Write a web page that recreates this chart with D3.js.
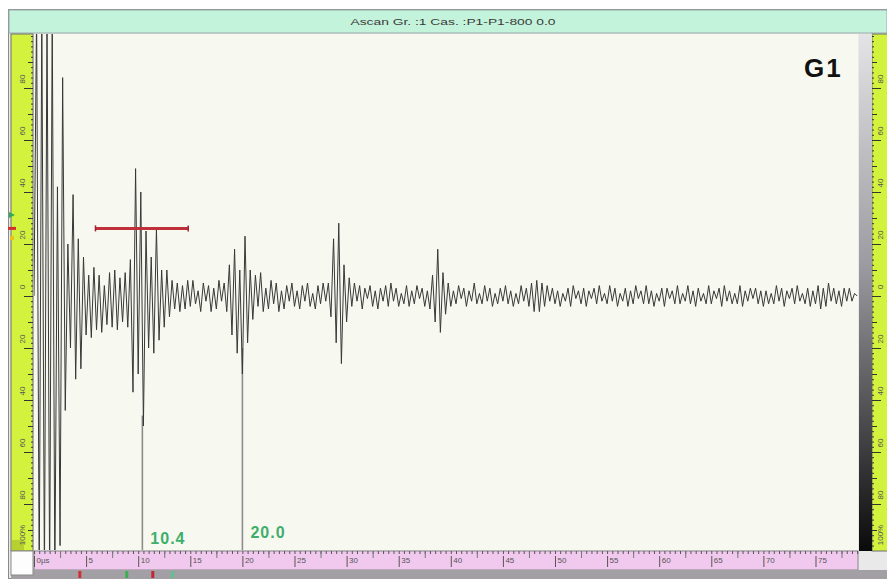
<!DOCTYPE html>
<html><head><meta charset="utf-8">
<script src="https://cdn.jsdelivr.net/npm/d3@7"></script>
<style>html,body{margin:0;padding:0;background:#fff;}svg{display:block;font-family:"Liberation Sans",Arial,sans-serif;}</style>
</head><body><svg id="c" width="887" height="579"></svg>
<script>
// ---------------- data ----------------
const titleText = "Ascan Gr. :1 Cas. :P1-P1-800 0.0";
const chartLabel = "G1";
const sampleStart = 0;      // µs
const sampleStep = 0.25;    // µs between samples
// amplitude in %, one value every 0.25 µs
const signalValues = [
  0,110,-110,110,-110,110,-110,110,-110,42,-96,84,-44,20,-20,39,-32,22,-28,15,
  -15,8,-16,11,-13,8,-14,4,-11,9,-12,10,-13,7,-10,9,-12,14,-37,49,
  -30,40,-50,25,-20,15,-22,26,-17,10,-12,10,-8,6,-5,5,-6,4,-5,6,
  -4,6,-3,2,-6,5,-2,4,-6,3,-5,6,-2,5,-6,12,-15,18,-22,10,
  -30,23,-18,10,-9,8,-4,9,-6,3,-5,6,-3,5,-6,2,-5,4,-2,5,
  -4,2,-5,4,-2,5,-4,1,-5,4,-3,5,-2,5,-8,22,-18,28,-26,12,
  -10,7,-4,5,-2,4,-5,3,-1,4,-4,2,-5,3,-2,4,-4,5,-2,3,
  -4,1,-3,4,-4,2,-3,4,-1,3,-4,2,-5,8,-10,18,-14,9,-7,5,
  -4,2,-3,4,-1,3,-4,2,-2,5,-3,1,-3,4,-2,3,-4,1,-3,3,
  -2,4,-3,2,-4,1,-3,4,-2,3,-4,5,-6,6,-6,5,-4,4,-2,3,
  -3,2,-4,1,-2,3,-4,4,-1,2,-3,3,-4,2,-1,3,-3,4,-2,1,
  -3,4,-2,3,-4,1,-2,3,-4,2,-3,4,-1,2,-3,4,-3,2,-4,1,
  -2,3,-4,3,-1,2,-3,4,-3,1,-2,4,-3,2,-4,3,-2,1,-3,4,
  -3,2,-1,3,-4,4,-2,2,-3,1,-3,4,-4,2,-2,3,-1,3,-3,2,
  -4,2,-3,1,-3,4,-2,3,-4,2,-1,3,-3,4,-2,1,-3,3,-4,2,
  -3,4,-5,3,-4,5,-2,3,-3,2,-4,3,-2,3,-2,1,0
];
const timeDomain = [0, 79.08];
const ampDomain = [-100, 100];
const xTickValues = [0,5,10,15,20,25,30,35,40,45,50,55,60,65,70,75];
const xTickLabels = ["0µs","5","10","15","20","25","30","35","40","45","50","55","60","65","70","75"];
const yTickValues = [80,60,40,20,0,-20,-40,-60,-80,-100];
const yTickLabels = ["80","60","40","20","0","20","40","60","80","100%"];
const gateStart = 5.9, gateEnd = 14.8, gateLevel = 26;
const cursorTimes = [10.4, 20.0];
const cursorLabels = ["10.4", "20.0"];
const cursorLows = [-46, -20];
const rulerMarkerTimes = [4.4, 8.9, 11.4, 13.3];
const rulerMarkerColors = ["#d0302f", "#3cb050", "#c02838", "#60c090"];

// ---------------- drawing ----------------
const svg = d3.select("#c");
const P = {l: 34, r: 858, t: 35, b: 550};
const x = d3.scaleLinear().domain(timeDomain).range([P.l, P.r]);
const y = d3.scaleLinear().domain(ampDomain).range([556, 36]);
const yellow = "#d3f23e";

svg.append("rect").attr("width", 887).attr("height", 579).attr("fill", "#fff");
svg.append("rect").attr("x", 8.5).attr("y", 9.5).attr("width", 890).attr("height", 569)
  .attr("fill", "#e9e9e9").attr("stroke", "#8a8a8a");

// title bar
svg.append("rect").attr("x", 9).attr("y", 10).attr("width", 878).attr("height", 23)
  .attr("fill", "#c4f3dc").attr("stroke", "#9aa");
svg.append("text").attr("x", 453).attr("y", 25).attr("text-anchor", "middle")
  .attr("font-size", 9.5).attr("fill", "#3a3a3a").attr("textLength", 205)
  .attr("lengthAdjust", "spacingAndGlyphs").text(titleText);

// side strips
svg.append("rect").attr("x", 11).attr("y", 34).attr("width", 22).attr("height", 517)
  .attr("fill", yellow).attr("stroke", "#6f6f6f");
svg.append("rect").attr("x", 872).attr("y", 34).attr("width", 20).attr("height", 517)
  .attr("fill", yellow).attr("stroke", "#6f6f6f");
const defs = svg.append("defs");
const g1 = defs.append("linearGradient").attr("id", "gb").attr("x1", 0).attr("y1", 0).attr("x2", 0).attr("y2", 1);
g1.append("stop").attr("offset", "0%").attr("stop-color", "#e4e4e6");
g1.append("stop").attr("offset", "45%").attr("stop-color", "#9a9aa0");
g1.append("stop").attr("offset", "100%").attr("stop-color", "#0a0a0a");
svg.append("rect").attr("x", 859).attr("y", 34).attr("width", 13).attr("height", 517).attr("fill", "url(#gb)");

// plot background
svg.append("rect").attr("x", P.l).attr("y", 34).attr("width", P.r - P.l).attr("height", P.b - 34)
  .attr("fill", "#f7f9f0");
defs.append("clipPath").attr("id", "clip").append("rect")
  .attr("x", P.l).attr("y", 34).attr("width", P.r - P.l).attr("height", P.b - 34);

// bottom ruler
svg.append("rect").attr("x", P.l).attr("y", 551).attr("width", P.r - P.l).attr("height", 19)
  .attr("fill", "#f2c9ee").attr("stroke", "#888");
svg.append("rect").attr("x", 11).attr("y", 570).attr("width", 876).attr("height", 9).attr("fill", "#a2a0a4");
svg.append("rect").attr("x", 11).attr("y", 551).attr("width", 22).attr("height", 24)
  .attr("fill", "#fdfdfd").attr("stroke", "#888");
svg.append("rect").attr("x", 12).attr("y", 540).attr("width", 12).attr("height", 10).attr("fill", "#b7d030");

svg.append("g").attr("transform", "translate(0,551)")
  .call(d3.axisBottom(x).tickValues(d3.range(0, 79.01, 0.5)).tickSize(3).tickFormat(""))
  .call(g => { g.select(".domain").remove(); g.selectAll("line").attr("stroke", "#555"); });
svg.append("g").attr("transform", "translate(0,551)")
  .call(d3.axisBottom(x).tickValues(d3.range(2.5, 79, 5)).tickSize(7).tickFormat(""))
  .call(g => { g.select(".domain").remove(); g.selectAll("line").attr("stroke", "#777"); });
const xAx = svg.append("g").attr("transform", "translate(0,551)")
  .call(d3.axisBottom(x).tickValues(xTickValues).tickSize(16).tickFormat((d, i) => xTickLabels[i]));
xAx.select(".domain").remove();
xAx.selectAll("line").attr("y1", 5).attr("stroke", "#555");
xAx.selectAll("text").attr("y", 12).attr("dy", 0).attr("x", 2).attr("text-anchor", "start")
  .attr("font-size", 8).attr("fill", "#555");

// amplitude axes (left and right)
const inPlot = v => y(v) >= 35 && y(v) <= 550;
function sideAxis(gen, tx, right) {
  svg.append("g").attr("transform", `translate(${tx},0)`)
    .call(gen(y).tickValues(d3.range(-100, 101, 2).filter(inPlot)).tickSize(2).tickFormat(""))
    .call(g => { g.select(".domain").remove(); g.selectAll("line").attr("stroke", "#333"); });
  svg.append("g").attr("transform", `translate(${tx},0)`)
    .call(gen(y).tickValues(d3.range(-90, 91, 20).filter(inPlot)).tickSize(5).tickFormat(""))
    .call(g => { g.select(".domain").remove(); g.selectAll("line").attr("stroke", "#333"); });
  const ax = svg.append("g").attr("transform", `translate(${tx},0)`)
    .call(gen(y).tickValues(yTickValues.filter(inPlot)).tickSize(9).tickFormat(""));
  ax.select(".domain").remove();
  ax.selectAll("line").attr("stroke", "#333");
  const lx = right ? tx + 8 : tx - 11;
  svg.append("g").selectAll("text").data(yTickValues).join("text")
    .attr("transform", (d) => `translate(${lx},${Math.min(y(d) - 9, 535)}) rotate(-90)`)
    .attr("text-anchor", "middle").attr("dominant-baseline", "central")
    .attr("font-size", 8).attr("fill", "#555")
    .text((d, i) => yTickLabels[i]);
}
sideAxis(d3.axisLeft, 33, false);
sideAxis(d3.axisRight, 872, true);

// left markers
svg.append("path").attr("d", "M9,212 L15,215 L9,218 Z").attr("fill", "#2faa55");
svg.append("rect").attr("x", 8).attr("y", y(gateLevel) - 1.5).attr("width", 8).attr("height", 3).attr("fill", "#d03030");
svg.append("rect").attr("x", 10).attr("y", 236).attr("width", 4).attr("height", 4).attr("fill", "#e8c020");

// ruler markers
svg.append("g").selectAll("rect").data(rulerMarkerTimes).join("rect")
  .attr("x", d => x(d) - 1.5).attr("y", 571).attr("width", 3).attr("height", 7)
  .attr("fill", (d, i) => rulerMarkerColors[i]);

const plot = svg.append("g").attr("clip-path", "url(#clip)");

// cursors
plot.selectAll("line.cur").data(cursorTimes).join("line").attr("class", "cur")
  .attr("x1", d => x(d)).attr("x2", d => x(d))
  .attr("y1", (d, i) => y(cursorLows[i])).attr("y2", P.b)
  .attr("stroke", "#8c8c8c").attr("stroke-width", 1.6);

// signal
const line = d3.line()
  .x((d, i) => x(sampleStart + i * sampleStep))
  .y(d => y(d));
plot.append("path").datum(signalValues).attr("d", line)
  .attr("fill", "none").attr("stroke", "#383838").attr("stroke-width", 1);

// gate
plot.append("line").attr("x1", x(gateStart)).attr("x2", x(gateEnd))
  .attr("y1", y(gateLevel)).attr("y2", y(gateLevel))
  .attr("stroke", "#c0303a").attr("stroke-width", 3);
plot.selectAll("line.gend").data([gateStart, gateEnd]).join("line").attr("class", "gend")
  .attr("x1", d => x(d)).attr("x2", d => x(d))
  .attr("y1", y(gateLevel) - 3).attr("y2", y(gateLevel) + 3)
  .attr("stroke", "#a02030").attr("stroke-width", 1.5);

// cursor labels
const labelBase = [544, 538];
svg.selectAll("text.cl").data(cursorTimes).join("text").attr("class", "cl")
  .attr("x", d => x(d) + 8).attr("y", (d, i) => labelBase[i])
  .attr("font-size", 16).attr("font-weight", "bold").attr("letter-spacing", 1)
  .attr("fill", "#3fae6c").text((d, i) => cursorLabels[i]);

// chart label
svg.append("text").attr("x", 804).attr("y", 77).attr("font-size", 26)
  .attr("font-weight", "bold").attr("letter-spacing", 2).attr("fill", "#111").text(chartLabel);
</script></body></html>
